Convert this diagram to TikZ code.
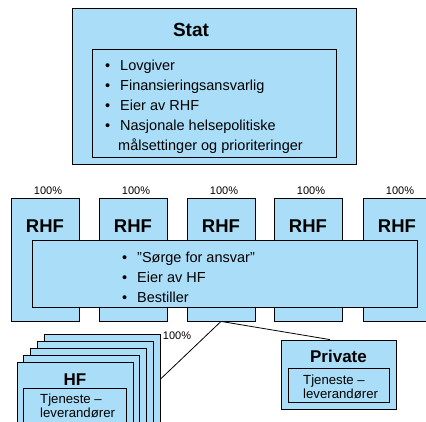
\documentclass[tikz,border=0pt]{standalone}
\usepackage{fontspec}
\setmainfont{Liberation Sans}
\usetikzlibrary{positioning}

\definecolor{hfblue}{RGB}{170,222,248}
\newcommand{\pkt}{\makebox[15pt][l]{\textbullet}}

\begin{document}
\begin{tikzpicture}[
    every node/.style={inner sep=0pt},
    bigbox/.style={
        draw, fill=hfblue, line width=1pt
    },
    box/.style={
        draw, fill=hfblue, line width=0.8pt
    },
    rhfbox/.style={
        box, minimum width=68pt, minimum height=123pt
    },
    card/.style={
        box, minimum width=116pt, minimum height=90pt
    },
    head/.style={font=\bfseries\fontsize{19pt}{22pt}\selectfont},
    subhead/.style={font=\bfseries\fontsize{17pt}{20pt}\selectfont},
    pct/.style={font=\fontsize{11pt}{13pt}\selectfont},
    liste/.style={align=left, anchor=west,
        font=\fontsize{14.5pt}{20pt}\selectfont},
    smaa/.style={align=left, anchor=west,
        font=\fontsize{13.2pt}{14.3pt}\selectfont}
]
\useasboundingbox (0pt,0pt) rectangle (426pt,-422pt);
\clip (0pt,0pt) rectangle (426pt,-422pt);

% ----------------------------------------------------------
% Staten
% ----------------------------------------------------------
\node[bigbox, minimum width=284pt, minimum height=156pt] (stat) at (214pt,-87pt) {};
\node[head] (stattxt) at (191pt,-30pt) {Stat};
\node[box, minimum width=244pt, minimum height=108pt] (statin) at (214pt,-103pt) {};
\node[liste] (statliste) at (105pt,-107pt)
    {\pkt Lovgiver\\
     \pkt Finansieringsansvarlig\\
     \pkt Eier av RHF\\
     \pkt Nasjonale helsepolitiske\\
     \hspace*{13pt}målsettinger og prioriteringer};

% ----------------------------------------------------------
% Fem regionale helseforetak
% ----------------------------------------------------------
\foreach \x [count=\i] in {45,133,221,308,397} {
    \node[rhfbox] (r\i) at (\x pt,-259.5pt) {};
    \node[head, font=\bfseries\fontsize{18.5pt}{22pt}\selectfont]
        (rl\i) at ([yshift=-29pt]r\i.north) {RHF};
    \node[pct, anchor=south] (p\i) at ([xshift=3pt,yshift=3pt]r\i.north) {100\%};
}

% Felles oppgaver for RHF
\node[box, minimum width=385pt, minimum height=67pt] (rhfin) at (224.5pt,-273.5pt) {};
\node[liste] (rhfliste) at (122pt,-277pt)
    {\pkt ”Sørge for ansvar”\\
     \pkt Eier av HF\\
     \pkt Bestiller};

% ----------------------------------------------------------
% Helseforetak (stabel av kort)
% ----------------------------------------------------------
\foreach \i in {4,3,2,1,0} {
    \node[card] (hf\i) at ({75pt+6.8pt*\i},{-407pt+7pt*\i}) {};
}
\node[subhead] (hftxt) at ([yshift=-18pt]hf0.north) {HF};
\node[box, minimum width=103pt, minimum height=50pt] (hfin) at (74.5pt,-413pt) {};
\node[smaa] (hfleg) at (40pt,-406pt) {Tjeneste –\\leverandører};
\node[pct] (hfpct) at (177pt,-336pt) {100\%};

% ----------------------------------------------------------
% Private leverandører
% ----------------------------------------------------------
\node[box, minimum width=115pt, minimum height=69pt] (priv) at (338.5pt,-374.5pt) {};
\node[subhead] (privtxt) at ([yshift=-17pt]priv.north) {Private};
\node[box, minimum width=101pt, minimum height=34pt] (privin) at (338.5pt,-385pt) {};
\node[smaa] (privleg) at (303pt,-387pt) {Tjeneste –\\leverandører};

% Linjer fra RHF
\coordinate (pj) at ([xshift=-8.5pt]priv.north);
\draw[line width=0.8pt] (r3.south) -- (hf4.east);
\draw[line width=0.8pt] (r3.south) -- (pj);

\end{tikzpicture}
\end{document}
